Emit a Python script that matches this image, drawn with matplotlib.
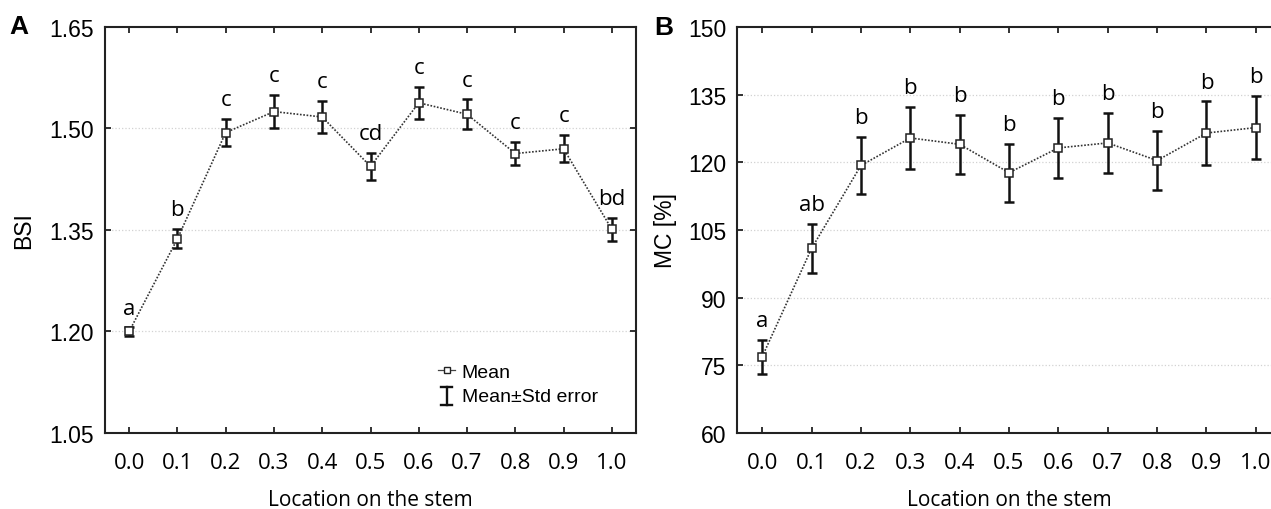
import matplotlib
matplotlib.use('Agg')
import matplotlib.pyplot as plt
from matplotlib.lines import Line2D
from matplotlib.legend_handler import HandlerBase

# Location on the stem (relative height)
location = [0.0, 0.1, 0.2, 0.3, 0.4, 0.5, 0.6, 0.7, 0.8, 0.9, 1.0]
x_ticklabels = ['0.0', '0.1', '0.2', '0.3', '0.4', '0.5', '0.6', '0.7', '0.8', '0.9', '1.0']

# Panel A: BSI
bsi_mean = [1.200, 1.337, 1.494, 1.525, 1.517, 1.444, 1.538, 1.521, 1.463, 1.470, 1.351]
bsi_se   = [0.006, 0.014, 0.020, 0.024, 0.024, 0.020, 0.024, 0.022, 0.017, 0.020, 0.017]
bsi_groups = ['a', 'b', 'c', 'c', 'c', 'cd', 'c', 'c', 'c', 'c', 'bd']
bsi_yticks = [1.05, 1.20, 1.35, 1.50, 1.65]

# Panel B: MC [%]
mc_mean = [76.9, 100.9, 119.3, 125.4, 124.0, 117.7, 123.2, 124.3, 120.4, 126.5, 127.7]
mc_se   = [3.8, 5.4, 6.4, 6.8, 6.6, 6.4, 6.7, 6.7, 6.5, 7.0, 7.0]
mc_groups = ['a', 'ab', 'b', 'b', 'b', 'b', 'b', 'b', 'b', 'b', 'b']
mc_yticks = [60, 75, 90, 105, 120, 135, 150]

W, H = 1271, 510
fig = plt.figure(figsize=(W / 100, H / 100), dpi=100)

# axes boxes in pixels: left, top, right, bottom
axA = fig.add_axes([105 / W, (H - 434) / H, (636 - 105) / W, 406 / H])
axB = fig.add_axes([737.5 / W, (H - 434) / H, 543 / W, 406 / H])

SANS = 'Liberation Sans'
LABEL = 'Open Sans'
DOTS = (0, (1, 1))


class HandlerIBeam(HandlerBase):
    def create_artists(self, legend, orig, xd, yd, width, height, fontsize, trans):
        cx = xd + width / 2
        top, bot = yd + height * 1.05, yd - height * 0.3
        cap = width * 0.32
        kw = dict(color='#111111', lw=1.7, transform=trans)
        return [Line2D([cx, cx], [bot, top], **kw),
                Line2D([cx - cap, cx + cap], [top, top], **kw),
                Line2D([cx - cap, cx + cap], [bot, bot], **kw)]


def draw_panel(ax, mean, se, groups, yticks, ylabel, ylabel_x):
    ax.set_xlim(-0.05, 1.05)
    ax.set_ylim(yticks[0], yticks[-1])
    for y in yticks[1:-1]:
        ax.axhline(y, color='#d2d2d2', lw=0.9, ls=':', zorder=0)
    ax.plot(location, mean, ls=DOTS, color='#333333', lw=1.2, marker='s', ms=6,
            mfc='white', mec='#222222', mew=1.1, zorder=4, label='Mean')
    ax.errorbar(location, mean, yerr=se, fmt='none', ecolor='#111111',
                elinewidth=1.8, capsize=3.9, capthick=1.8, zorder=3)
    for x, m, s, g in zip(location, mean, se, groups):
        ax.annotate(g, xy=(x, m + s), xytext=(0, 10), textcoords='offset points',
                    ha='center', va='baseline', fontsize=16, family=LABEL)

    ax.set_xticks(location)
    ax.set_xticklabels(x_ticklabels, family=LABEL, fontsize=16)
    ax.set_yticks(yticks)
    ax.set_yticklabels([f'{v:.2f}' if isinstance(v, float) else str(v) for v in yticks],
                       family=SANS, fontsize=16.5)
    ax.tick_params(axis='both', direction='in', length=4, width=1.3,
                   top=True, right=True, color='#222222')
    ax.tick_params(axis='x', pad=14)
    ax.tick_params(axis='y', pad=8)
    for sp in ax.spines.values():
        sp.set_linewidth(1.5)
        sp.set_color('#222222')

    ax.set_xlabel('Location on the stem', family=LABEL, fontsize=15)
    ax.xaxis.set_label_coords(0.5, -0.164)
    ax.xaxis.label.set_va('center')
    ax.set_ylabel(ylabel, family=SANS, fontsize=16.5)
    ax.yaxis.set_label_coords(ylabel_x, 0.5)
    ax.yaxis.label.set_va('center')


draw_panel(axA, bsi_mean, bsi_se, bsi_groups, bsi_yticks, 'BSI', -0.154)
draw_panel(axB, mc_mean, mc_se, mc_groups, mc_yticks, 'MC [%]', -0.132)

mean_handle = Line2D([], [], ls='-', color='#444444', lw=0.9, marker='s', ms=5,
                     mfc='white', mec='#222222', mew=1.0)
se_handle = Line2D([], [])
axA.legend([mean_handle, se_handle], ['Mean', 'Mean\u00b1Std error'],
           handler_map={se_handle: HandlerIBeam()},
           loc='upper left', bbox_to_anchor=(0.628, 0.172), frameon=False,
           prop={'family': SANS, 'size': 14}, handlelength=0.85,
           handletextpad=0.35, labelspacing=0.35, borderpad=0, borderaxespad=0)

fig.text(19 / W, 1 - 27.5 / H, 'A', family=SANS, fontsize=19, fontweight='bold',
         ha='center', va='center')
fig.text(664 / W, 1 - 28 / H, 'B', family=SANS, fontsize=19, fontweight='bold',
         ha='center', va='center')

fig.savefig('out.png', dpi=100, facecolor='white')
